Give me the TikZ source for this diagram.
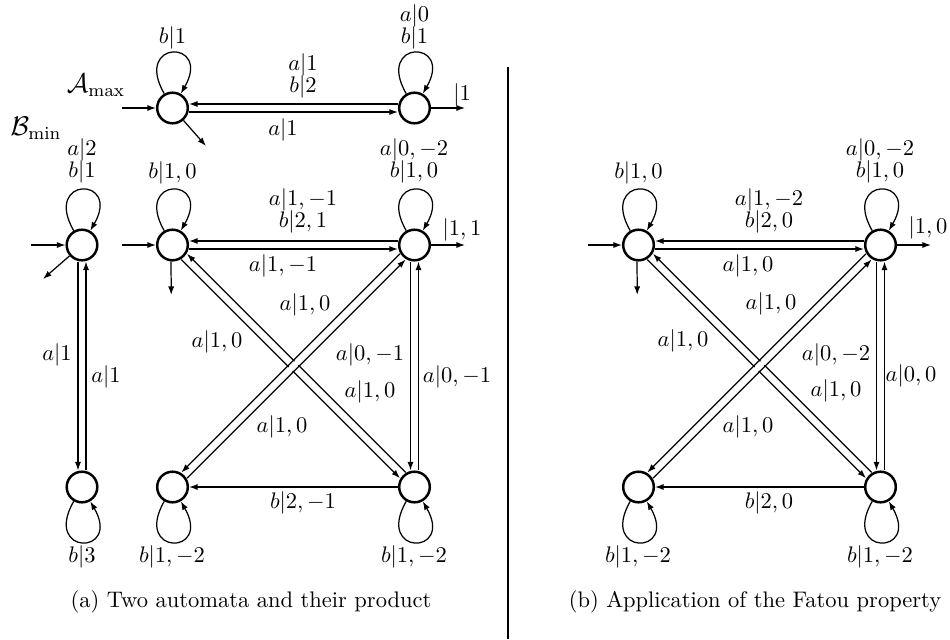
\documentclass[tikz,border=0pt]{standalone}
\usetikzlibrary{arrows.meta}
\newcommand\looptop[1]{\draw[tr] (#1.120) .. controls +(120:28pt) and +(60:28pt) .. (#1.60);}
\newcommand\loopbot[1]{\draw[tr] (#1.240) .. controls +(240:28pt) and +(300:28pt) .. (#1.300);}
\begin{document}
\begin{tikzpicture}[x=0.4444pt,y=-0.4444pt,
  st/.style={circle,draw,line width=1.1pt,inner sep=0pt,minimum size=13.6pt},
  tr/.style={line width=0.55pt,-{Latex[length=3.8pt,width=2.7pt]}},
  lbl/.style={inner sep=0pt,align=center},
  up/.style={transform canvas={shift={(90:1.78pt)}}},
  dn/.style={transform canvas={shift={(270:1.78pt)}}},
  lf/.style={transform canvas={shift={(180:1.78pt)}}},
  rt/.style={transform canvas={shift={(0:1.78pt)}}},
  ne/.style={transform canvas={shift={(45:1.78pt)}}},
  sw/.style={transform canvas={shift={(225:1.78pt)}}},
  nw/.style={transform canvas={shift={(135:1.78pt)}}},
  se/.style={transform canvas={shift={(-45:1.78pt)}}},
  gap/.style={preaction={draw=white,line width=2.2pt,-,shorten <=9pt,shorten >=9pt}},
]
\useasboundingbox (0,0) rectangle (950,639);

% ---- states
\node[st] (A1) at (172.5,108) {};
\node[st] (A2) at (414.5,108) {};
\node[st] (B1) at (82,245) {};
\node[st] (B2) at (82,487) {};
\node[st] (P1) at (172.5,245) {};
\node[st] (P2) at (414.5,245) {};
\node[st] (P3) at (172.5,487) {};
\node[st] (P4) at (414.5,487) {};
\node[st] (Q1) at (638.5,245) {};
\node[st] (Q2) at (880.5,245) {};
\node[st] (Q3) at (638.5,487) {};
\node[st] (Q4) at (880.5,487) {};

% ---- free ends
\coordinate (A1i) at (122,108);
\coordinate (A1o) at (206,146);
\coordinate (A2o) at (465,108);
\coordinate (B1i) at (31,245);
\coordinate (B1o) at (43,279);
\coordinate (P1i) at (122,245);
\coordinate (P1o) at (171.2,295);
\coordinate (P2o) at (465,245);
\coordinate (Q1i) at (588,245);
\coordinate (Q1o) at (637.2,295);
\coordinate (Q2o) at (931,245);
\coordinate (D1) at (508,67);
\coordinate (D2) at (508,639);

\draw[line width=0.8pt] (D1) -- (D2);

% ---- A_max
\draw[tr] (A1i) -- (A1);
\draw[tr] (A1) -- (A1o);
\draw[tr] (A2) -- (A2o);
\looptop{A1}
\looptop{A2}
\draw[tr,up] (A2) -- (A1);
\draw[tr,dn] (A1) -- (A2);

% ---- B_min
\draw[tr] (B1i) -- (B1);
\draw[tr] (B1) -- (B1o);
\looptop{B1}
\loopbot{B2}
\draw[tr,lf] (B1) -- (B2);
\draw[tr,rt] (B2) -- (B1);

% ---- product
\draw[tr] (P1i) -- (P1);
\draw[tr] (P1.265) -- (P1o);
\draw[tr] (P2) -- (P2o);
\looptop{P1}
\looptop{P2}
\loopbot{P3}
\loopbot{P4}
\draw[tr,up] (P2) -- (P1);
\draw[tr,dn] (P1) -- (P2);
\draw[tr,lf] (P2) -- (P4);
\draw[tr,rt] (P4) -- (P2);
\draw[tr] (P4) -- (P3);
\draw[tr,ne] (P4) -- (P1);
\draw[tr,sw] (P1) -- (P4);
\draw[tr,nw,gap] (P2) -- (P3);
\draw[tr,se,gap] (P3) -- (P2);

% ---- Fatou
\draw[tr] (Q1i) -- (Q1);
\draw[tr] (Q1.265) -- (Q1o);
\draw[tr] (Q2) -- (Q2o);
\looptop{Q1}
\looptop{Q2}
\loopbot{Q3}
\loopbot{Q4}
\draw[tr,up] (Q2) -- (Q1);
\draw[tr,dn] (Q1) -- (Q2);
\draw[tr,lf] (Q2) -- (Q4);
\draw[tr,rt] (Q4) -- (Q2);
\draw[tr] (Q4) -- (Q3);
\draw[tr,ne] (Q4) -- (Q1);
\draw[tr,sw] (Q1) -- (Q4);
\draw[tr,nw,gap] (Q2) -- (Q3);
\draw[tr,se,gap] (Q3) -- (Q2);

% ---- labels A/B
\node[lbl] (tA) at (96,85) {\large $\mathcal{A}_{\max}$};
\node[lbl] (tB) at (36,128) {\large $\mathcal{B}_{\min}$};
\node[lbl] (a1) at (172.5,38) {$b|1$};
\node[lbl] (a2) at (414.5,27) {$a|0$\\[-2.2pt]$b|1$};
\node[lbl] (a3) at (303,76) {$a|1$\\[-2.2pt]$b|2$};
\node[lbl] (a4) at (283,130) {$a|1$};
\node[lbl] (a5) at (462,95) {$|1$};
\node[lbl] (b1) at (82,161) {$a|2$\\[-2.2pt]$b|1$};
\node[lbl] (b2) at (57,355) {$a|1$};
\node[lbl] (b3) at (106,377) {$a|1$};
\node[lbl] (b4) at (82,557) {$b|3$};

% ---- labels product
\node[lbl] (p1) at (172.5,173) {$b|1,0$};
\node[lbl] (p2) at (414,161) {$a|0,-2$\\[-2.2pt]$b|1,0$};
\node[lbl] (p3) at (303,211) {$a|1,-1$\\[-2.2pt]$b|2,1$};
\node[lbl] (p4) at (283,266) {$a|1,-1$};
\node[lbl] (p5) at (462,230) {$|1,1$};
\node[lbl] (p6) at (217,342) {$a|1,0$};
\node[lbl] (p7) at (305,305) {$a|1,0$};
\node[lbl] (p8) at (370,355) {$a|0,-1$};
\node[lbl] (p9) at (457,377) {$a|0,-1$};
\node[lbl] (p10) at (370,392) {$a|1,0$};
\node[lbl] (p11) at (282,427) {$a|1,0$};
\node[lbl] (p12) at (303,503) {$b|2,-1$};
\node[lbl] (p13) at (172,557) {$b|1,-2$};
\node[lbl] (p14) at (414,557) {$b|1,-2$};

% ---- labels Fatou
\node[lbl] (q1) at (638.5,173) {$b|1,0$};
\node[lbl] (q2) at (880,161) {$a|0,-2$\\[-2.2pt]$b|1,0$};
\node[lbl] (q3) at (769,211) {$a|1,-2$\\[-2.2pt]$b|2,0$};
\node[lbl] (q4) at (748,266) {$a|1,0$};
\node[lbl] (q5) at (928,228) {$|1,0$};
\node[lbl] (q6) at (683,341) {$a|1,0$};
\node[lbl] (q7) at (771,304) {$a|1,0$};
\node[lbl] (q8) at (836,355) {$a|0,-2$};
\node[lbl] (q9) at (911,376) {$a|0,0$};
\node[lbl] (q10) at (836,391) {$a|1,0$};
\node[lbl] (q11) at (748,427) {$a|1,0$};
\node[lbl] (q12) at (769,503) {$b|2,0$};
\node[lbl] (q13) at (638,557) {$b|1,-2$};
\node[lbl] (q14) at (880,557) {$b|1,-2$};

% ---- captions
\node[lbl] (ca) at (251,602) {(a) Two automata and their product};
\node[lbl] (cb) at (755,602) {(b) Application of the Fatou property};
\end{tikzpicture}
\end{document}
